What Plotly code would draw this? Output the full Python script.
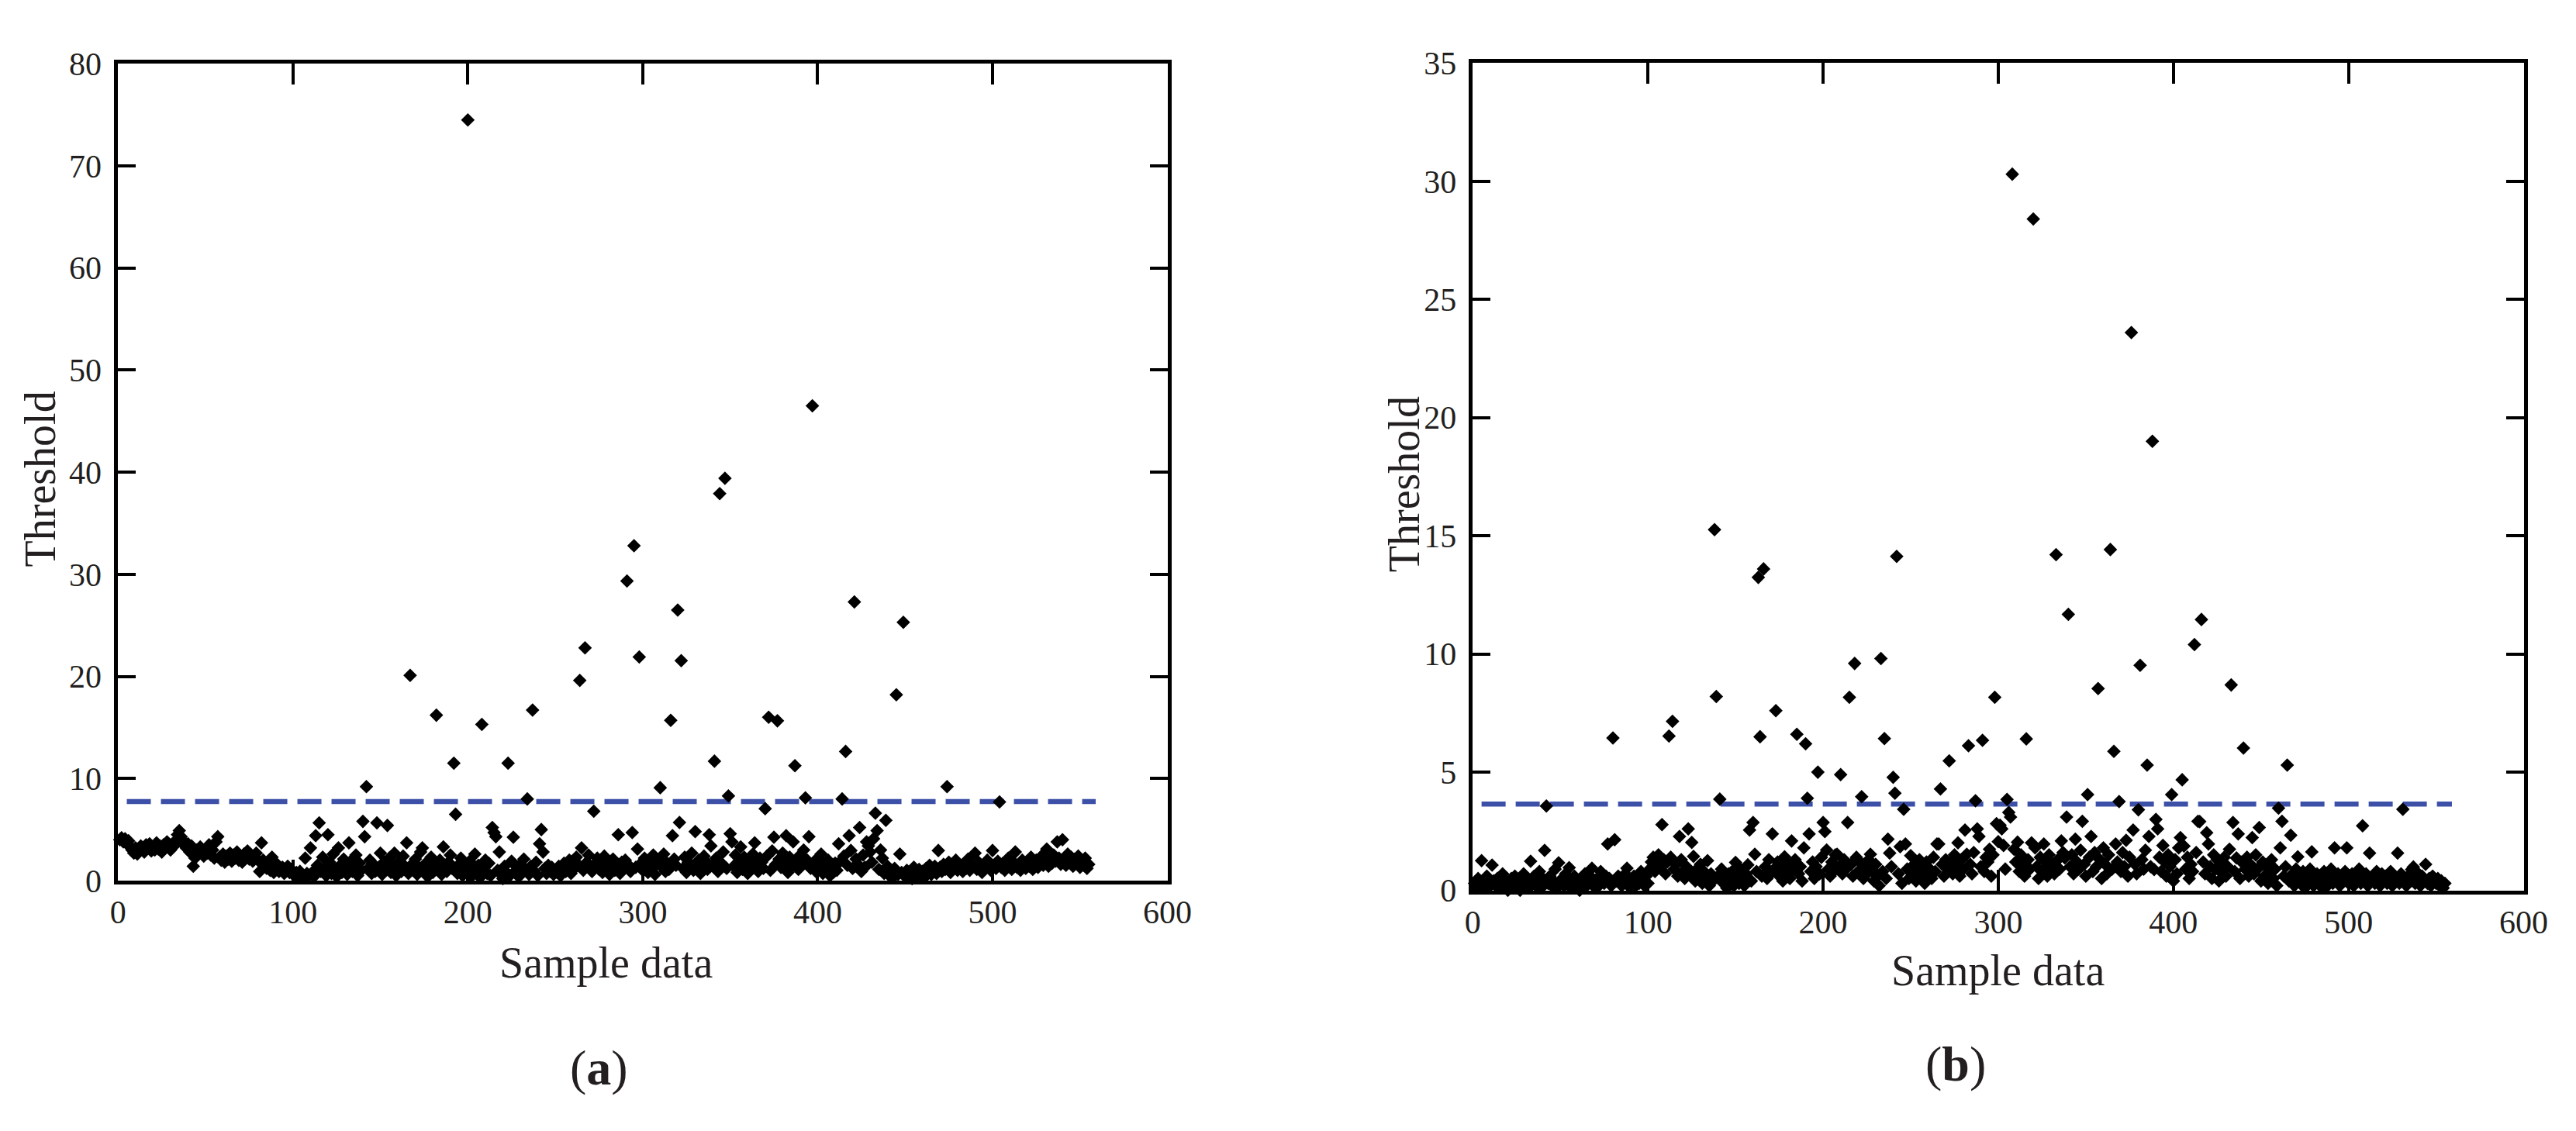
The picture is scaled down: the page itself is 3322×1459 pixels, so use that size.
import plotly.graph_objects as go

# ---------------- data ----------------
# (a) threshold per sample (index 1..555)
threshold_a = [
    4.0, 4.2, 3.8, 4.1, 3.6, 3.9, 3.3, 3.0, 2.7, 3.2,
    2.6, 3.0, 3.4, 3.1, 2.8, 3.5, 3.2, 3.6, 2.9, 3.3,
    3.0, 3.7, 3.1, 3.4, 2.8, 3.5, 3.2, 3.8, 3.3, 3.0,
    3.6, 3.4, 3.9, 4.5, 4.9, 4.3, 3.9, 3.5, 3.2, 3.6,
    2.8, 3.4, 1.4, 2.2, 3.0, 2.6, 3.3, 2.9, 2.4, 3.1,
    2.7, 3.5, 2.5, 3.0, 2.2, 3.8, 4.3, 2.3, 2.0, 2.6,
    1.8, 2.4, 2.1, 2.7, 1.9, 2.5, 2.2, 2.8, 2.0, 2.4,
    1.8, 2.6, 2.3, 2.9, 2.1, 2.5, 1.9, 2.2, 2.7, 2.0,
    0.9, 3.7, 2.0, 1.5, 1.2, 1.8, 1.0, 2.3, 0.8, 1.2,
    1.6, 0.9, 1.1, 1.3, 0.7, 1.0, 1.4, 0.8, 1.1, 0.6,
    0.5, 0.8, 0.4, 0.9, 0.6, 0.3, 2.2, 0.7, 0.5, 3.2,
    0.8, 0.4, 4.4, 1.5, 5.65, 0.9, 2.3, 1.2, 0.5, 4.5,
    1.8, 0.7, 2.6, 1.1, 0.4, 3.2, 1.5, 0.8, 2.1, 1.3,
    0.6, 3.7, 1.9, 0.9, 1.4, 2.5, 0.5, 1.7, 1.0, 5.8,
    4.3, 9.2, 1.2, 2.0, 0.7, 1.6, 0.9, 5.65, 1.3, 2.7,
    0.6, 1.8, 1.1, 5.4, 2.2, 0.8, 1.5, 2.7, 0.5, 1.2,
    1.9, 0.9, 2.4, 1.4, 3.7, 0.7, 20.1, 1.6, 1.0, 2.1,
    0.6, 1.3, 2.8, 3.2, 0.9, 1.7, 0.4, 1.2, 2.3, 0.8,
    1.5, 16.2, 1.1, 2.0, 0.6, 3.3, 1.4, 0.9, 1.8, 2.5,
    1.2, 11.5, 6.5, 0.7, 1.6, 2.2, 0.5, 1.3, 0.9, 74.5,
    1.9, 0.4, 1.1, 2.6, 0.8, 1.5, 0.3, 15.3, 1.2, 2.0,
    0.7, 1.7, 0.5, 5.2, 4.7, 4.3, 1.0, 2.8, 0.6, 0.2,
    1.4, 0.8, 11.5, 0.5, 1.9, 4.25, 0.9, 1.3, 0.4, 1.6,
    0.7, 2.1, 1.1, 8.0, 0.6, 1.4, 16.7, 0.9, 1.8, 0.5,
    3.6, 5.0, 2.8, 1.2, 0.7, 1.5, 0.9, 1.3, 0.6, 1.0,
    0.8, 1.4, 0.5, 1.1, 1.7, 0.9, 1.3, 2.0, 0.7, 1.5,
    1.2, 2.3, 1.6, 19.6, 3.2, 1.0, 22.8, 1.8, 2.5, 1.4,
    0.9, 6.8, 1.7, 2.2, 1.1, 1.5, 0.8, 2.4, 1.3, 1.9,
    0.6, 1.6, 2.1, 1.0, 1.4, 4.5, 0.7, 1.8, 1.2, 2.0,
    29.35, 1.5, 0.9, 4.7, 32.8, 1.3, 3.1, 21.9, 1.7, 1.0,
    2.2, 1.4, 0.8, 1.9, 1.2, 2.5, 0.6, 1.6, 2.0, 9.1,
    1.3, 2.6, 0.9, 1.7, 1.1, 15.7, 4.4, 2.1, 1.5, 26.5,
    5.7, 21.55, 1.2, 2.3, 0.8, 1.8, 1.4, 2.7, 1.0, 4.8,
    1.6, 2.0, 0.7, 1.3, 2.4, 1.9, 1.1, 4.5, 3.4, 1.5,
    11.7, 2.2, 0.9, 37.9, 1.7, 2.8, 39.4, 1.2, 8.3, 4.6,
    3.8, 1.4, 2.5, 0.8, 1.9, 3.3, 1.1, 2.3, 1.6, 0.7,
    2.0, 1.3, 2.6, 3.7, 1.5, 0.9, 2.2, 1.8, 1.2, 7.05,
    2.4, 16.0, 1.0, 2.9, 4.25, 1.6, 15.65, 2.1, 1.3, 2.7,
    1.7, 4.4, 0.8, 2.3, 1.4, 3.8, 11.25, 1.9, 1.1, 2.5,
    1.5, 3.0, 8.1, 2.0, 4.3, 1.2, 46.5, 1.8, 0.9, 2.2,
    1.4, 2.6, 0.7, 1.6, 1.1, 2.0, 0.5, 1.3, 0.8, 1.7,
    1.0, 3.6, 1.9, 8.0, 2.4, 12.65, 1.5, 4.4, 2.95, 1.2,
    27.3, 2.1, 1.6, 5.2, 0.9, 2.5, 1.3, 3.8, 3.4, 2.8,
    1.8, 4.1, 6.6, 4.9, 1.1, 3.0, 2.2, 0.7, 5.9, 1.4,
    0.5, 0.9, 0.3, 1.2, 18.2, 0.6, 2.6, 0.8, 25.3, 0.4,
    1.0, 0.5, 0.9, 0.2, 1.3, 0.7, 0.4, 1.1, 0.6, 0.9,
    0.3, 1.2, 0.8, 1.5, 0.6, 1.0, 1.4, 0.7, 2.95, 1.3,
    0.9, 1.6, 1.1, 9.2, 1.8, 0.8, 1.4, 1.2, 2.0, 1.0,
    1.5, 1.3, 0.9, 1.7, 1.2, 2.1, 1.0, 1.6, 1.4, 2.7,
    1.1, 1.8, 1.3, 0.8, 1.6, 1.2, 2.0, 1.4, 1.0, 2.95,
    1.5, 1.2, 1.9, 7.7, 1.3, 1.7, 1.0, 1.6, 2.2, 1.4,
    1.1, 1.8, 2.8, 1.3, 1.6, 1.0, 2.0, 1.5, 1.2, 1.9,
    1.4, 2.3, 1.1, 1.7, 2.0, 1.3, 1.6, 2.4, 1.5, 1.8,
    3.1, 1.4, 2.1, 1.7, 2.5, 1.9, 3.8, 2.2, 1.6, 4.0,
    2.0, 1.5, 2.6, 1.8, 2.3, 1.4, 2.1, 1.7, 2.4, 1.3,
    1.9, 1.5, 2.2, 1.2, 1.6,
]

# (b) threshold per sample (index 1..555)
threshold_b = [
    0.3, 0.1, 0.5, 0.2, 1.26, 0.4, 0.1, 0.6, 0.3, 0.2,
    1.07, 0.4, 0.2, 0.5, 0.1, 0.3, 0.7, 0.2, 0.4, 0.0,
    0.3, 0.5, 0.1, 0.6, 0.2, 0.4, 0.0, 0.3, 0.7, 0.2,
    0.5, 0.1, 1.23, 0.4, 0.6, 0.2, 0.3, 0.8, 0.1, 0.5,
    1.69, 3.57, 0.3, 0.6, 0.2, 0.4, 0.9, 0.1, 1.17, 0.3,
    0.5, 0.2, 0.7, 0.4, 0.96, 0.1, 0.3, 0.6, 0.2, 0.4,
    0.0, 0.5, 0.3, 0.7, 0.2, 0.4, 0.6, 0.94, 0.3, 0.1,
    0.5, 0.2, 0.8, 0.4, 0.3, 0.6, 1.96, 0.5, 0.2, 6.45,
    2.14, 0.4, 0.6, 0.3, 0.2, 0.5, 0.7, 0.94, 0.3, 0.1,
    0.4, 0.6, 0.2, 0.5, 0.3, 0.8, 0.4, 0.2, 0.6, 0.3,
    0.9, 1.2, 1.4, 0.8, 1.1, 1.5, 1.0, 2.78, 1.3, 0.7,
    1.2, 6.53, 1.4, 7.15, 0.9, 1.1, 0.6, 2.28, 1.3, 0.8,
    0.5, 1.0, 2.6, 0.7, 2.03, 1.44, 0.4, 0.9, 0.6, 1.1,
    0.3, 0.8, 0.5, 1.26, 0.2, 0.7, 0.4, 15.26, 8.2, 0.6,
    3.86, 0.9, 0.3, 0.5, 0.1, 0.7, 0.4, 0.8, 0.2, 1.18,
    0.6, 0.3, 0.9, 0.5, 0.2, 0.7, 1.08, 2.55, 0.4, 2.87,
    1.53, 0.8, 13.24, 6.5, 0.6, 13.6, 1.0, 0.5, 1.3, 0.7,
    2.39, 0.9, 7.6, 1.2, 0.6, 1.0, 0.4, 1.42, 0.8, 1.1,
    0.5, 2.09, 0.9, 1.3, 6.6, 0.7, 1.0, 0.4, 1.8, 6.2,
    3.9, 2.39, 0.8, 1.2, 0.5, 1.0, 5.0, 0.7, 1.4, 2.87,
    2.49, 1.71, 0.9, 0.6, 1.2, 0.8, 1.5, 1.53, 1.0, 4.9,
    0.7, 1.3, 0.9, 2.87, 8.17, 1.1, 0.6, 9.6, 1.4, 0.8,
    1.2, 3.96, 0.5, 1.0, 0.7, 1.3, 1.53, 0.9, 0.4, 1.1,
    0.6, 0.2, 9.81, 0.8, 6.42, 0.5, 2.17, 1.58, 1.0, 4.78,
    4.11, 14.13, 0.7, 1.85, 0.3, 3.43, 1.96, 0.9, 0.5, 1.47,
    0.8, 1.1, 0.4, 0.9, 1.3, 0.6, 1.0, 0.3, 1.2, 0.7,
    0.9, 0.5, 1.4, 0.8, 1.96, 1.96, 4.29, 1.1, 0.6, 1.3,
    0.9, 5.48, 1.2, 0.7, 1.5, 1.0, 2.01, 0.6, 1.3, 0.9,
    2.55, 1.53, 6.12, 1.1, 0.7, 1.6, 3.79, 2.6, 2.28, 1.0,
    6.35, 0.8, 1.4, 1.2, 1.74, 0.6, 1.5, 8.17, 2.82, 2.06,
    2.76, 2.6, 1.9, 0.9, 3.85, 3.3, 3.1, 30.3, 1.74, 1.2,
    2.04, 0.8, 1.5, 1.1, 0.6, 6.41, 1.3, 0.9, 2.01, 28.4,
    1.8, 1.0, 0.5, 1.4, 0.8, 1.96, 1.2, 0.6, 1.5, 0.9,
    1.1, 0.7, 14.2, 1.3, 0.9, 2.09, 1.6, 1.37, 3.1, 11.68,
    1.0, 1.5, 0.7, 2.17, 1.2, 0.9, 1.7, 2.92, 1.1, 0.6,
    4.05, 1.4, 2.28, 0.8, 1.6, 1.0, 8.54, 1.3, 0.5, 1.8,
    1.1, 0.7, 1.5, 14.42, 0.9, 5.88, 1.96, 1.2, 3.76, 0.8,
    1.6, 1.0, 2.12, 0.6, 1.4, 23.6, 2.55, 1.1, 0.7, 3.41,
    9.52, 1.3, 0.9, 1.7, 5.3, 2.28, 1.0, 19.0, 0.88, 3.0,
    2.6, 1.4, 0.8, 1.9, 1.2, 0.6, 1.5, 1.0, 4.05, 0.4,
    1.3, 0.7, 1.8, 2.23, 4.68, 1.87, 0.9, 1.4, 0.5, 1.1,
    0.8, 10.4, 1.6, 2.92, 2.91, 11.46, 1.2, 0.7, 2.44, 1.96,
    1.0, 0.5, 1.5, 0.9, 1.3, 0.4, 1.1, 0.7, 1.4, 0.6,
    1.0, 1.74, 8.69, 2.87, 0.8, 1.37, 2.39, 0.5, 1.2, 6.02,
    0.9, 1.4, 0.6, 1.1, 2.23, 0.7, 1.5, 0.9, 2.66, 0.4,
    1.2, 0.6, 1.0, 0.3, 0.8, 1.3, 0.5, 0.9, 0.2, 3.48,
    1.8, 2.92, 0.6, 1.0, 5.3, 0.4, 2.33, 0.7, 0.2, 0.9,
    1.42, 0.5, 0.3, 0.8, 0.1, 0.6, 0.4, 0.9, 1.63, 0.2,
    0.5, 0.7, 0.3, 0.6, 0.1, 0.8, 0.4, 0.2, 0.6, 0.9,
    0.3, 1.8, 0.5, 0.7, 0.2, 0.6, 0.4, 0.8, 1.8, 0.3,
    0.5, 0.7, 0.2, 0.6, 0.4, 0.9, 0.3, 2.73, 0.5, 0.7,
    0.2, 1.58, 0.4, 0.6, 0.3, 0.8, 0.5, 0.2, 0.7, 0.4,
    0.6, 0.3, 0.5, 0.8, 0.2, 0.6, 0.4, 1.58, 0.3, 0.7,
    3.43, 0.5, 0.2, 0.6, 0.4, 0.88, 0.99, 0.3, 0.5, 0.7,
    0.2, 0.6, 0.4, 1.1, 0.3, 0.5, 0.2, 0.6, 0.4, 0.3,
    0.5, 0.2, 0.4, 0.1, 0.3,
]

sample_a = list(range(1, len(threshold_a) + 1))
sample_b = list(range(1, len(threshold_b) + 1))

# dashed threshold lines (start/end sample, level)
limit_x = [5, 559]
limit_a = [7.75, 7.75]
limit_b = [3.65, 3.65]

x_ticks = [0, 100, 200, 300, 400, 500, 600]
y_ticks_a = [0, 10, 20, 30, 40, 50, 60, 70, 80]
y_ticks_b = [0, 5, 10, 15, 20, 25, 30, 35]

# ---------------- figure ----------------
W, H = 3322, 1459
TXT = "#231f20"
FONT = "Liberation Serif"
BLUE = "#3d50a8"

fig = go.Figure()

fig.add_trace(go.Scatter(x=limit_x, y=limit_a, mode="lines",
                         line=dict(color=BLUE, width=6.5, dash="31px,13px"),
                         xaxis="x", yaxis="y", hoverinfo="skip"))
fig.add_trace(go.Scatter(x=sample_a, y=threshold_a, mode="markers",
                         marker=dict(symbol="diamond", size=13.5, color="black",
                                     line=dict(width=0)),
                         cliponaxis=False, xaxis="x", yaxis="y"))
fig.add_trace(go.Scatter(x=limit_x, y=limit_b, mode="lines",
                         line=dict(color=BLUE, width=6.5, dash="31px,13px"),
                         xaxis="x2", yaxis="y2", hoverinfo="skip"))
fig.add_trace(go.Scatter(x=sample_b, y=threshold_b, mode="markers",
                         marker=dict(symbol="diamond", size=13.5, color="black",
                                     line=dict(width=0)),
                         cliponaxis=False, xaxis="x2", yaxis="y2"))

axis_common = dict(showline=True, linecolor="black", linewidth=4.5,
                   mirror="ticks", ticks="inside", tickwidth=4,
                   tickcolor="black", showgrid=False, zeroline=False,
                   tickfont=dict(family=FONT, size=42, color=TXT))

fig.update_layout(
    width=W, height=H,
    margin=dict(l=0, r=0, t=0, b=0),
    paper_bgcolor="white", plot_bgcolor="white",
    showlegend=False,
    xaxis=dict(domain=[135 / W, 1506 / W], range=[0, 600], tickvals=x_ticks,
               anchor="y", ticklen=27, ticklabelstandoff=0, **axis_common),
    yaxis=dict(domain=[1 - 1142 / H, 1 - 54 / H], range=[0, 80], tickvals=y_ticks_a,
               anchor="x", ticklen=23, ticklabelstandoff=8, **axis_common),
    xaxis2=dict(domain=[1905 / W, 3278 / W], range=[0, 600], tickvals=x_ticks,
                anchor="y2", ticklen=27, ticklabelstandoff=0, **axis_common),
    yaxis2=dict(domain=[1 - 1155 / H, 1 - 53 / H], range=[0, 35], tickvals=y_ticks_b,
                anchor="x2", ticklen=23, ticklabelstandoff=8, **axis_common),
)

def note(text, px, py, size, angle=0):
    fig.add_annotation(text=text, x=px / W, y=1 - py / H, xref="paper", yref="paper",
                       showarrow=False, textangle=angle, xanchor="center", yanchor="middle",
                       font=dict(family=FONT, size=size, color=TXT))

note("Threshold", 33, 607, 56, -90)
note("Threshold", 1815, 614, 56, -90)
note("Sample data", 773, 1251, 56)
note("Sample data", 2591, 1262, 56)
note("(<b>a</b>)", 763, 1391, 64)
note("(<b>b</b>)", 2536, 1386, 64)

fig.write_html("out.html")
